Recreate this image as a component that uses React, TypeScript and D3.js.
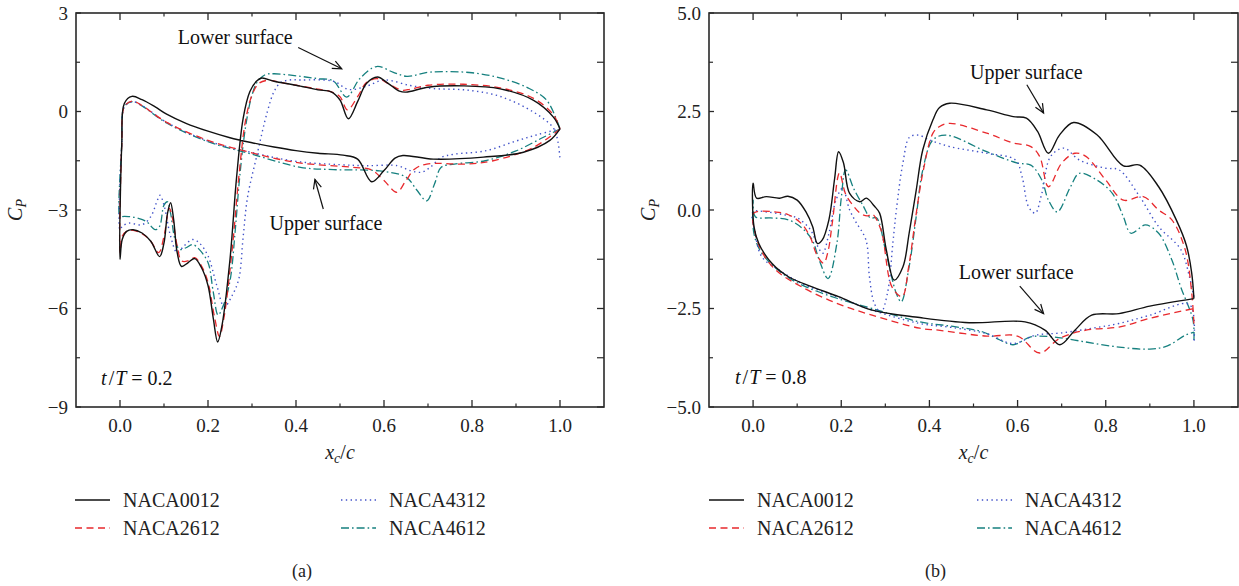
import React from "react";
import * as d3 from "d3";

type P = [number, number];

// ---------- Panel (a): t/T = 0.2 ----------
const a0012Upper: P[] = [[0, -4.5], [0.004, -1.0], [0.01, 0.25], [0.027, 0.46], [0.05, 0.36], [0.08, 0.14], [0.106, -0.08], [0.15, -0.36], [0.2, -0.6], [0.25, -0.8], [0.3, -0.95], [0.35, -1.08], [0.4, -1.19], [0.45, -1.27], [0.507, -1.33], [0.54, -1.45], [0.572, -2.14], [0.6, -1.8], [0.625, -1.42], [0.643, -1.34], [0.712, -1.45], [0.826, -1.39], [0.917, -1.24], [0.977, -0.88], [1.0, -0.53]];
const a0012Lower: P[] = [[0, -4.5], [0.005, -3.9], [0.015, -3.65], [0.03, -3.6], [0.05, -3.7], [0.07, -3.95], [0.09, -4.42], [0.1, -4.0], [0.108, -3.1], [0.115, -2.78], [0.122, -3.3], [0.13, -4.3], [0.14, -4.72], [0.155, -4.6], [0.17, -4.48], [0.185, -4.75], [0.2, -5.3], [0.212, -6.3], [0.222, -7.02], [0.232, -6.5], [0.25, -4.5], [0.265, -2.0], [0.28, -0.2], [0.295, 0.6], [0.31, 0.92], [0.322, 1.02], [0.35, 0.92], [0.4, 0.8], [0.45, 0.66], [0.48, 0.6], [0.5, 0.35], [0.519, -0.22], [0.54, 0.3], [0.56, 0.85], [0.585, 1.05], [0.61, 0.85], [0.635, 0.62], [0.65, 0.59], [0.7, 0.74], [0.78, 0.78], [0.864, 0.69], [0.94, 0.34], [0.985, -0.17], [1.0, -0.53]];

const a2612Upper: P[] = [[0, -4.3], [0.004, -1.0], [0.01, 0.15], [0.028, 0.32], [0.05, 0.18], [0.106, -0.33], [0.2, -0.88], [0.28, -1.19], [0.4, -1.55], [0.53, -1.7], [0.57, -1.77], [0.6, -2.1], [0.629, -2.46], [0.65, -2.1], [0.67, -1.75], [0.697, -1.6], [0.788, -1.6], [0.848, -1.5], [0.94, -1.09], [1.0, -0.53]];
const a2612Lower: P[] = [[0, -4.3], [0.005, -3.8], [0.015, -3.65], [0.03, -3.62], [0.05, -3.72], [0.07, -3.95], [0.088, -4.3], [0.1, -3.8], [0.112, -2.95], [0.12, -3.3], [0.13, -4.1], [0.14, -4.55], [0.155, -4.55], [0.17, -4.45], [0.185, -4.7], [0.2, -5.2], [0.214, -6.2], [0.226, -6.85], [0.236, -6.3], [0.255, -4.2], [0.27, -2.0], [0.285, -0.3], [0.3, 0.5], [0.315, 0.85], [0.335, 0.95], [0.36, 0.9], [0.4, 0.8], [0.45, 0.68], [0.48, 0.6], [0.5, 0.45], [0.517, 0.05], [0.54, 0.45], [0.56, 0.88], [0.585, 1.0], [0.61, 0.85], [0.64, 0.65], [0.66, 0.68], [0.7, 0.8], [0.78, 0.83], [0.864, 0.72], [0.94, 0.4], [0.985, -0.1], [1.0, -0.53]];

const a4312Upper: P[] = [[0, -3.6], [0.004, -1.0], [0.01, 0.15], [0.028, 0.3], [0.05, 0.18], [0.106, -0.33], [0.2, -0.9], [0.3, -1.25], [0.4, -1.52], [0.5, -1.62], [0.56, -1.65], [0.63, -1.65], [0.66, -1.8], [0.685, -1.85], [0.705, -1.7], [0.73, -1.4], [0.76, -1.3], [0.83, -1.2], [0.9, -0.9], [0.95, -0.7], [1.0, -0.53]];
const a4312Lower: P[] = [[0, -3.6], [0.005, -3.5], [0.02, -3.4], [0.05, -3.45], [0.07, -3.2], [0.085, -2.7], [0.091, -2.55], [0.1, -2.85], [0.115, -3.8], [0.13, -4.3], [0.145, -4.1], [0.165, -3.9], [0.18, -4.0], [0.2, -4.4], [0.22, -5.3], [0.237, -5.95], [0.255, -5.6], [0.27, -5.1], [0.28, -3.8], [0.29, -2.6], [0.31, -1.4], [0.335, 0.0], [0.35, 0.6], [0.365, 0.88], [0.385, 0.96], [0.41, 0.96], [0.485, 0.92], [0.52, 0.67], [0.56, 0.77], [0.6, 0.96], [0.66, 0.79], [0.71, 0.7], [0.79, 0.65], [0.864, 0.46], [0.94, -0.02], [0.985, -0.5], [0.995, -0.9], [1.0, -1.45]];

const a4612Upper: P[] = [[0, -3.25], [0.004, -1.0], [0.01, 0.15], [0.028, 0.3], [0.05, 0.17], [0.106, -0.35], [0.2, -0.92], [0.3, -1.3], [0.41, -1.7], [0.485, -1.77], [0.59, -1.81], [0.65, -2.0], [0.675, -2.4], [0.697, -2.72], [0.715, -2.2], [0.73, -1.7], [0.76, -1.6], [0.83, -1.5], [0.9, -1.2], [0.96, -0.8], [1.0, -0.53]];
const a4612Lower: P[] = [[0, -3.25], [0.005, -3.2], [0.02, -3.2], [0.04, -3.25], [0.06, -3.35], [0.08, -3.6], [0.09, -3.5], [0.1, -2.85], [0.108, -2.75], [0.115, -3.1], [0.125, -3.9], [0.135, -4.2], [0.15, -4.15], [0.165, -4.05], [0.18, -4.2], [0.2, -4.6], [0.212, -5.5], [0.223, -6.2], [0.235, -5.9], [0.25, -5.16], [0.262, -3.6], [0.272, -2.0], [0.285, -0.5], [0.298, 0.4], [0.312, 0.9], [0.33, 1.12], [0.35, 1.15], [0.41, 1.07], [0.45, 1.0], [0.485, 0.93], [0.515, 0.44], [0.545, 1.0], [0.583, 1.37], [0.62, 1.2], [0.652, 1.07], [0.705, 1.2], [0.8, 1.18], [0.87, 1.0], [0.93, 0.7], [0.97, 0.34], [1.0, -0.53]];

// ---------- Panel (b): t/T = 0.8 ----------
const b0012Upper: P[] = [[0, 0.68], [0.008, 0.3], [0.03, 0.34], [0.06, 0.3], [0.079, 0.35], [0.1, 0.25], [0.12, -0.05], [0.135, -0.42], [0.146, -0.85], [0.157, -0.76], [0.172, -0.25], [0.185, 0.8], [0.194, 1.48], [0.205, 1.2], [0.219, 0.42], [0.242, 0.21], [0.257, 0.3], [0.275, 0.1], [0.287, -0.08], [0.302, -1.0], [0.32, -1.78], [0.34, -1.44], [0.354, -0.59], [0.37, 0.5], [0.385, 1.53], [0.408, 2.29], [0.423, 2.6], [0.446, 2.71], [0.53, 2.54], [0.59, 2.37], [0.62, 2.33], [0.645, 2.0], [0.67, 1.44], [0.695, 1.9], [0.727, 2.22], [0.78, 1.91], [0.84, 1.12], [0.877, 1.14], [0.92, 0.59], [0.96, -0.25], [0.983, -0.9], [0.995, -1.6], [1.0, -2.25]];
const b0012Lower: P[] = [[0, 0.68], [0.002, -0.42], [0.013, -0.85], [0.043, -1.36], [0.081, -1.7], [0.134, -1.95], [0.194, -2.2], [0.27, -2.54], [0.378, -2.73], [0.49, -2.86], [0.617, -2.84], [0.662, -3.05], [0.696, -3.42], [0.73, -3.05], [0.768, -2.67], [0.83, -2.63], [0.9, -2.44], [1.0, -2.25]];

const b2612Upper: P[] = [[0, -0.1], [0.01, -0.04], [0.05, -0.05], [0.08, -0.12], [0.11, -0.35], [0.13, -0.7], [0.145, -1.15], [0.16, -1.35], [0.17, -1.05], [0.18, -0.3], [0.196, 0.94], [0.21, 0.4], [0.23, 0.07], [0.245, -0.1], [0.26, -0.15], [0.27, -0.1], [0.29, -0.5], [0.315, -1.95], [0.338, -2.2], [0.353, -1.44], [0.368, -0.25], [0.385, 0.94], [0.408, 1.95], [0.423, 2.12], [0.446, 2.2], [0.53, 1.95], [0.59, 1.7], [0.63, 1.61], [0.65, 1.36], [0.67, 0.59], [0.7, 1.19], [0.73, 1.44], [0.755, 1.36], [0.8, 0.76], [0.84, 0.25], [0.885, 0.34], [0.92, 0.0], [0.95, -0.25], [0.98, -1.0], [0.995, -2.1], [1.0, -2.88]];
const b2612Lower: P[] = [[0, -0.1], [0.005, -0.6], [0.022, -1.1], [0.052, -1.53], [0.11, -1.95], [0.19, -2.37], [0.27, -2.67], [0.378, -3.0], [0.42, -3.05], [0.53, -3.2], [0.6, -3.2], [0.65, -3.63], [0.695, -3.26], [0.755, -3.05], [0.83, -2.97], [0.9, -2.75], [1.0, -2.5]];

const b4312Upper: P[] = [[0, -0.05], [0.03, -0.05], [0.07, -0.12], [0.1, -0.2], [0.13, -0.5], [0.148, -0.95], [0.158, -1.1], [0.172, -0.6], [0.188, 0.25], [0.203, 0.55], [0.219, 0.0], [0.233, -0.3], [0.256, -0.76], [0.264, -1.7], [0.275, -2.37], [0.29, -2.6], [0.305, -2.1], [0.317, -0.85], [0.325, 0.0], [0.34, 1.2], [0.355, 1.85], [0.375, 1.9], [0.4, 1.78], [0.446, 1.61], [0.53, 1.44], [0.595, 1.27], [0.61, 0.85], [0.625, 0.08], [0.64, -0.08], [0.655, 0.42], [0.675, 1.36], [0.705, 1.57], [0.74, 1.27], [0.8, 1.06], [0.83, 1.02], [0.877, 0.34], [0.92, -0.42], [0.97, -1.0], [0.99, -1.7], [1.0, -2.2]];
const b4312Lower: P[] = [[0, -0.05], [0.005, -0.6], [0.02, -1.19], [0.06, -1.53], [0.11, -1.86], [0.19, -2.2], [0.27, -2.54], [0.378, -2.88], [0.45, -2.98], [0.53, -3.14], [0.59, -3.39], [0.64, -3.18], [0.7, -3.12], [0.77, -3.0], [0.83, -2.88], [0.9, -2.67], [0.99, -2.4], [1.0, -3.39]];

const b4612Upper: P[] = [[0, 0.25], [0.005, -0.17], [0.04, -0.2], [0.08, -0.25], [0.11, -0.45], [0.134, -0.76], [0.15, -1.27], [0.17, -1.74], [0.19, -0.85], [0.2, 0.3], [0.21, 1.02], [0.228, 0.55], [0.25, 0.1], [0.266, -0.2], [0.28, -0.2], [0.3, -1.0], [0.325, -2.12], [0.336, -2.33], [0.354, -1.44], [0.37, -0.17], [0.385, 1.02], [0.408, 1.78], [0.438, 1.9], [0.53, 1.48], [0.6, 1.19], [0.63, 1.14], [0.655, 0.76], [0.67, 0.25], [0.69, -0.05], [0.72, 0.59], [0.74, 0.93], [0.78, 0.76], [0.815, 0.42], [0.84, -0.17], [0.857, -0.59], [0.89, -0.38], [0.92, -0.59], [0.95, -1.27], [0.97, -1.95], [0.998, -2.8], [1.0, -3.3]];
const b4612Lower: P[] = [[0, 0.25], [0.002, -0.6], [0.02, -1.1], [0.065, -1.6], [0.11, -1.9], [0.19, -2.24], [0.27, -2.5], [0.378, -2.84], [0.45, -2.95], [0.52, -3.09], [0.56, -3.3], [0.59, -3.42], [0.63, -3.22], [0.68, -3.22], [0.755, -3.35], [0.83, -3.48], [0.9, -3.53], [0.94, -3.45], [0.98, -3.18], [1.0, -3.1]];

// ---------- Shared ----------
const seriesNames = ["NACA0012", "NACA2612", "NACA4312", "NACA4612"];
const seriesColors = ["#111111", "#e8292d", "#4152c9", "#16807f"];
const seriesDash = ["", "7,4.5", "1.4,3.4", "8,3,1.6,3"];
const seriesWidth = [1.4, 1.3, 1.4, 1.3];

const xDomain: [number, number] = [-0.1, 1.1];
const xMajor = [0, 0.2, 0.4, 0.6, 0.8, 1.0];
const xMinor = [0.1, 0.3, 0.5, 0.7, 0.9];

const aYDomain: [number, number] = [-9, 3];
const aYMajor = [-9, -6, -3, 0, 3];
const aYMinor = [-7.5, -4.5, -1.5, 1.5];
const bYDomain: [number, number] = [-5, 5];
const bYMajor = [-5, -2.5, 0, 2.5, 5];
const bYMinor = [-3.75, -1.25, 1.25, 3.75];

const aSeries: P[][][] = [[a0012Upper, a0012Lower], [a2612Upper, a2612Lower], [a4312Upper, a4312Lower], [a4612Upper, a4612Lower]];
const bSeries: P[][][] = [[b0012Upper, b0012Lower], [b2612Upper, b2612Lower], [b4312Upper, b4312Lower], [b4612Upper, b4612Lower]];

// annotations in data coordinates: [text, textX, textY, arrowFromX, arrowFromY, arrowToX, arrowToY]
const aNotes: [string, number, number, number, number, number, number][] = [
  ["Lower surface", 0.262, 2.26, 0.405, 1.95, 0.504, 1.3],
  ["Upper surface", 0.468, -3.39, 0.462, -2.97, 0.443, -2.07],
];
const bNotes: [string, number, number, number, number, number, number][] = [
  ["Upper surface", 0.62, 3.51, 0.621, 3.18, 0.659, 2.46],
  ["Lower surface", 0.597, -1.57, 0.605, -1.93, 0.659, -2.63],
];
const aTime = ["0.2", -0.043, -8.11];
const bTime = ["0.8", -0.041, -4.24];

const FONT = "'Liberation Serif', 'DejaVu Serif', serif";

type PanelProps = {
  left: number; right: number; top: number; bottom: number;
  yDomain: [number, number]; yMajor: number[]; yMinor: number[];
  series: P[][][]; notes: typeof aNotes; time: (string | number)[];
  yFmt: (v: number) => string; label: string; legendX: number; legendX2: number;
};

function Panel(p: PanelProps) {
  const x = d3.scaleLinear().domain(xDomain).range([p.left, p.right]);
  const y = d3.scaleLinear().domain(p.yDomain).range([p.bottom, p.top]);
  const line = d3.line<P>().x(d => x(d[0])).y(d => y(d[1])).curve(d3.curveCatmullRom.alpha(0.5));
  const clipId = "clip" + p.label;
  const axisColor = "#2a2a2a";
  const cx = (p.left + p.right) / 2;
  const figCx = (p.left - 76 + p.right) / 2;

  const arrowHead = (x1: number, y1: number, x2: number, y2: number) => {
    const ang = Math.atan2(y2 - y1, x2 - x1);
    const L = 10, a = 0.42;
    const p1 = [x2 - L * Math.cos(ang - a), y2 - L * Math.sin(ang - a)];
    const p2 = [x2 - L * Math.cos(ang + a), y2 - L * Math.sin(ang + a)];
    return `M${p1[0]},${p1[1]}L${x2},${y2}L${p2[0]},${p2[1]}`;
  };

  return (
    <g>
      <defs>
        <clipPath id={clipId}>
          <rect x={p.left} y={p.top} width={p.right - p.left} height={p.bottom - p.top} />
        </clipPath>
      </defs>
      <g clipPath={`url(#${clipId})`}>
        {p.series.map((s, i) => {
          const pts = [...s[0].slice().reverse(), ...s[1].slice(1)];
          return (
            <path key={i} d={line(pts) || ""} fill="none" stroke={seriesColors[i]}
              strokeWidth={seriesWidth[i]} strokeDasharray={seriesDash[i] || undefined} strokeLinejoin="round" />
          );
        }).reverse()}
      </g>
      <rect x={p.left} y={p.top} width={p.right - p.left} height={p.bottom - p.top} fill="none" stroke={axisColor} strokeWidth={1.6} />
      {xMajor.map(v => (
        <g key={"xM" + v}>
          <line x1={x(v)} x2={x(v)} y1={p.bottom} y2={p.bottom - 7} stroke={axisColor} strokeWidth={1.3} />
          <line x1={x(v)} x2={x(v)} y1={p.top} y2={p.top + 7} stroke={axisColor} strokeWidth={1.3} />
          <text x={x(v)} y={p.bottom + 25} textAnchor="middle" fontSize={19} fontFamily={FONT} fill="#222">{v.toFixed(1)}</text>
        </g>
      ))}
      {xMinor.map(v => (
        <g key={"xm" + v}>
          <line x1={x(v)} x2={x(v)} y1={p.bottom} y2={p.bottom - 3.5} stroke={axisColor} strokeWidth={1.2} />
          <line x1={x(v)} x2={x(v)} y1={p.top} y2={p.top + 3.5} stroke={axisColor} strokeWidth={1.2} />
        </g>
      ))}
      {p.yMajor.map(v => (
        <g key={"yM" + v}>
          <line x1={p.left} x2={p.left + 5} y1={y(v)} y2={y(v)} stroke={axisColor} strokeWidth={1.3} />
          <line x1={p.right} x2={p.right - 7} y1={y(v)} y2={y(v)} stroke={axisColor} strokeWidth={1.3} />
          <text x={p.left - 8} y={y(v) + 6.5} textAnchor="end" fontSize={19} fontFamily={FONT} fill="#222">{p.yFmt(v)}</text>
        </g>
      ))}
      {p.yMinor.map(v => (
        <g key={"ym" + v}>
          <line x1={p.left} x2={p.left + 4} y1={y(v)} y2={y(v)} stroke={axisColor} strokeWidth={1.2} />
          <line x1={p.right} x2={p.right - 7} y1={y(v)} y2={y(v)} stroke={axisColor} strokeWidth={1.2} />
        </g>
      ))}
      <text transform={`translate(${p.left - 54},${(p.top + p.bottom) / 2}) rotate(-90)`} textAnchor="middle" fontSize={20} fontFamily={FONT} fill="#222">
        <tspan fontStyle="italic">C</tspan><tspan fontStyle="italic" fontSize={14} dy={4}>P</tspan>
      </text>
      <text x={cx} y={p.bottom + 52} textAnchor="middle" fontSize={20} fontFamily={FONT} fill="#222">
        <tspan fontStyle="italic">x</tspan><tspan fontStyle="italic" fontSize={14} dy={4}>c</tspan><tspan dy={-4}>/</tspan><tspan fontStyle="italic">c</tspan>
      </text>
      {p.notes.map((n, i) => (
        <g key={"n" + i}>
          <text x={x(n[1])} y={y(n[2]) + 7} textAnchor="middle" fontSize={20} fontFamily={FONT} fill="#111">{n[0]}</text>
          <line x1={x(n[3])} y1={y(n[4])} x2={x(n[5])} y2={y(n[6])} stroke="#111" strokeWidth={1.2} />
          <path d={arrowHead(x(n[3]), y(n[4]), x(n[5]), y(n[6]))} fill="none" stroke="#111" strokeWidth={1.2} />
        </g>
      ))}
      <text x={x(p.time[1] as number)} y={y(p.time[2] as number) + 7} fontSize={20} fontFamily={FONT} fill="#111" style={{ whiteSpace: "pre" }}>
        <tspan fontStyle="italic">t</tspan><tspan dx={2}>/</tspan><tspan fontStyle="italic" dx={1}>T</tspan><tspan>{"\u00a0=\u00a0" + (p.time[0] as string)}</tspan>
      </text>
      {seriesNames.map((nm, i) => {
        const col = i < 2 ? p.legendX : p.legendX2;
        const ly = i % 2 === 0 ? 500 : 528;
        return (
          <g key={"l" + i}>
            <line x1={col} x2={col + 35} y1={ly} y2={ly} stroke={seriesColors[i]} strokeWidth={seriesWidth[i]}
              strokeDasharray={seriesDash[i] || undefined} />
            <text x={col + 48} y={ly + 7} fontSize={20} fontFamily={FONT} fill="#222">{nm}</text>
          </g>
        );
      })}
      <text x={figCx} y={577} textAnchor="middle" fontSize={18} fontFamily={FONT} fill="#222">({p.label})</text>
    </g>
  );
}

export default function App() {
  return (
    <svg width={1239} height={586} style={{ position: "absolute", left: 0, top: 0, background: "#fff" }}>
      <rect x={0} y={0} width={1239} height={586} fill="#fff" />
      <Panel left={76} right={604} top={13} bottom={407} yDomain={aYDomain} yMajor={aYMajor} yMinor={aYMinor}
        series={aSeries} notes={aNotes} time={aTime} yFmt={v => d3.format("d")(v).replace("-", "\u2212")}
        label="a" legendX={75} legendX2={341} />
      <Panel left={709} right={1238} top={13} bottom={407} yDomain={bYDomain} yMajor={bYMajor} yMinor={bYMinor}
        series={bSeries} notes={bNotes} time={bTime} yFmt={v => d3.format(".1f")(v).replace("-", "\u2212")}
        label="b" legendX={709} legendX2={977} />
    </svg>
  );
}
